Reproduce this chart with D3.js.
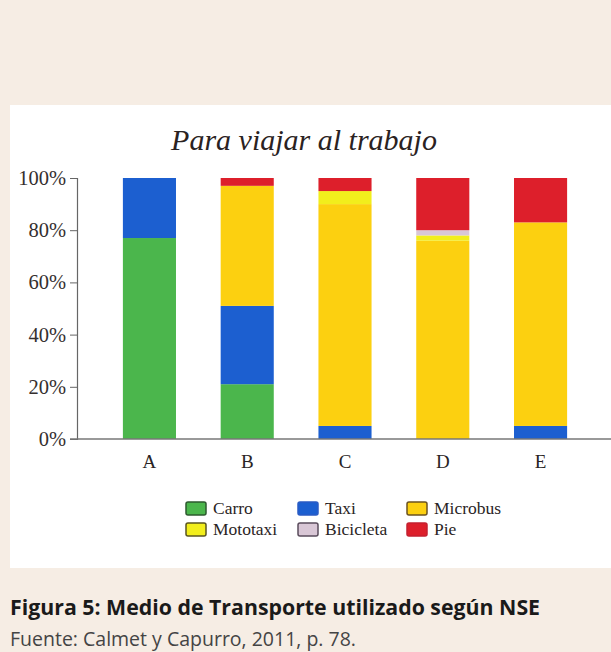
<!DOCTYPE html>
<html>
<head>
<meta charset="utf-8">
<script src="https://cdn.jsdelivr.net/npm/d3@7"></script>
<style>
  body { margin: 0; background: #f6ede4; }
  svg { display: block; }
</style>
</head>
<body>
<svg id="chart" width="611" height="652"></svg>
<script>
// NSE groups
var groups = ["A", "B", "C", "D", "E"];
var modes = ["Carro", "Taxi", "Microbus", "Mototaxi", "Bicicleta", "Pie"];

// percentages per mode, one value per group (A..E)
var carro     = [77, 21, 0, 0, 0];
var taxi      = [23, 30, 5, 0, 5];
var microbus  = [0, 46, 85, 76, 78];
var mototaxi  = [0, 0, 5, 2, 0];
var bicicleta = [0, 0, 0, 2, 0];
var pie       = [0, 3, 5, 20, 17];

var yTicks = [0, 20, 40, 60, 80, 100];

var colors = {
  Carro: "#4bb64c", Taxi: "#1c5fd0", Microbus: "#fcd010",
  Mototaxi: "#f2ee1c", Bicicleta: "#d9c7d6", Pie: "#dd1f2b"
};
var borders = {
  Carro: "#2d5a2e", Taxi: "#2a5bc4", Microbus: "#6b5320",
  Mototaxi: "#5a5520", Bicicleta: "#5a4c5c", Pie: "#c42030"
};

var table = groups.map(function(g, i) {
  return { group: g, Carro: carro[i], Taxi: taxi[i], Microbus: microbus[i],
           Mototaxi: mototaxi[i], Bicicleta: bicicleta[i], Pie: pie[i] };
});

var svg = d3.select("#chart");

// white panel
svg.append("rect")
  .attr("x", 10).attr("y", 105)
  .attr("width", 601).attr("height", 463)
  .attr("fill", "#ffffff");

var xScale = d3.scaleBand()
  .domain(groups)
  .range([74, 616])
  .paddingInner(0.457)
  .paddingOuter(0.5);

var yScale = d3.scaleLinear()
  .domain([0, 100])
  .range([439, 178]);

var stack = d3.stack().keys(modes);
var series = stack(table);

svg.append("g")
  .selectAll("g")
  .data(series)
  .enter()
  .append("g")
  .attr("fill", function(s) { return colors[s.key]; })
  .selectAll("rect")
  .data(function(s) { return s; })
  .enter()
  .append("rect")
  .attr("x", function(d) { return xScale(d.data.group); })
  .attr("width", xScale.bandwidth())
  .attr("y", function(d) { return yScale(d[1]); })
  .attr("height", function(d) { return yScale(d[0]) - yScale(d[1]); });

// y axis
var yAxis = d3.axisLeft(yScale)
  .tickValues(yTicks)
  .tickSize(7)
  .tickPadding(4)
  .tickFormat(function(d) { return d + "%"; });

var gy = svg.append("g")
  .attr("transform", "translate(77,0)")
  .call(yAxis);
gy.select(".domain").attr("stroke", "#666").attr("stroke-width", 1.2);
gy.selectAll(".tick line").attr("stroke", "#666");
gy.selectAll(".tick text")
  .attr("font-family", "Liberation Serif, serif")
  .attr("font-size", 20.5)
  .attr("fill", "#352f2f");

// x axis line
svg.append("line")
  .attr("x1", 70).attr("x2", 611)
  .attr("y1", yScale(0)).attr("y2", yScale(0))
  .attr("stroke", "#777").attr("stroke-width", 1.5);

svg.append("g")
  .selectAll("text")
  .data(groups)
  .enter()
  .append("text")
  .attr("x", function(d) { return xScale(d) + xScale.bandwidth() / 2; })
  .attr("y", 468)
  .attr("text-anchor", "middle")
  .attr("font-family", "Liberation Serif, serif")
  .attr("font-size", 19)
  .attr("fill", "#2a2424")
  .text(function(d) { return d; });

// title
svg.append("text")
  .attr("x", 304).attr("y", 150)
  .attr("text-anchor", "middle")
  .attr("font-family", "Liberation Serif, serif")
  .attr("font-style", "italic")
  .attr("font-size", 30)
  .attr("fill", "#2a2222")
  .text("Para viajar al trabajo");

// legend
var legendPos = [[186, 502], [298, 502], [407, 502], [186, 523], [298, 523], [407, 523]];
var legend = svg.append("g")
  .selectAll("g")
  .data(modes)
  .enter()
  .append("g")
  .attr("transform", function(d, i) { return "translate(" + legendPos[i][0] + "," + legendPos[i][1] + ")"; });

legend.append("rect")
  .attr("width", 20).attr("height", 13)
  .attr("rx", 2)
  .attr("fill", function(d) { return colors[d]; })
  .attr("stroke", function(d) { return borders[d]; })
  .attr("stroke-width", 1.5);

legend.append("text")
  .attr("x", 27).attr("y", 12)
  .attr("font-family", "Liberation Serif, serif")
  .attr("font-size", 17.5)
  .attr("fill", "#2a2424")
  .text(function(d) { return d; });

// caption
svg.append("text")
  .attr("x", 10).attr("y", 615)
  .attr("font-family", "Open Sans, sans-serif")
  .attr("font-weight", "bold")
  .attr("font-size", 21.3)
  .attr("fill", "#1a1a1a")
  .text("Figura 5: Medio de Transporte utilizado según NSE");

svg.append("text")
  .attr("x", 10).attr("y", 646)
  .attr("font-family", "Open Sans, sans-serif")
  .attr("font-size", 19.5)
  .attr("fill", "#444")
  .text("Fuente: Calmet y Capurro, 2011, p. 78.");
</script>
</body>
</html>
